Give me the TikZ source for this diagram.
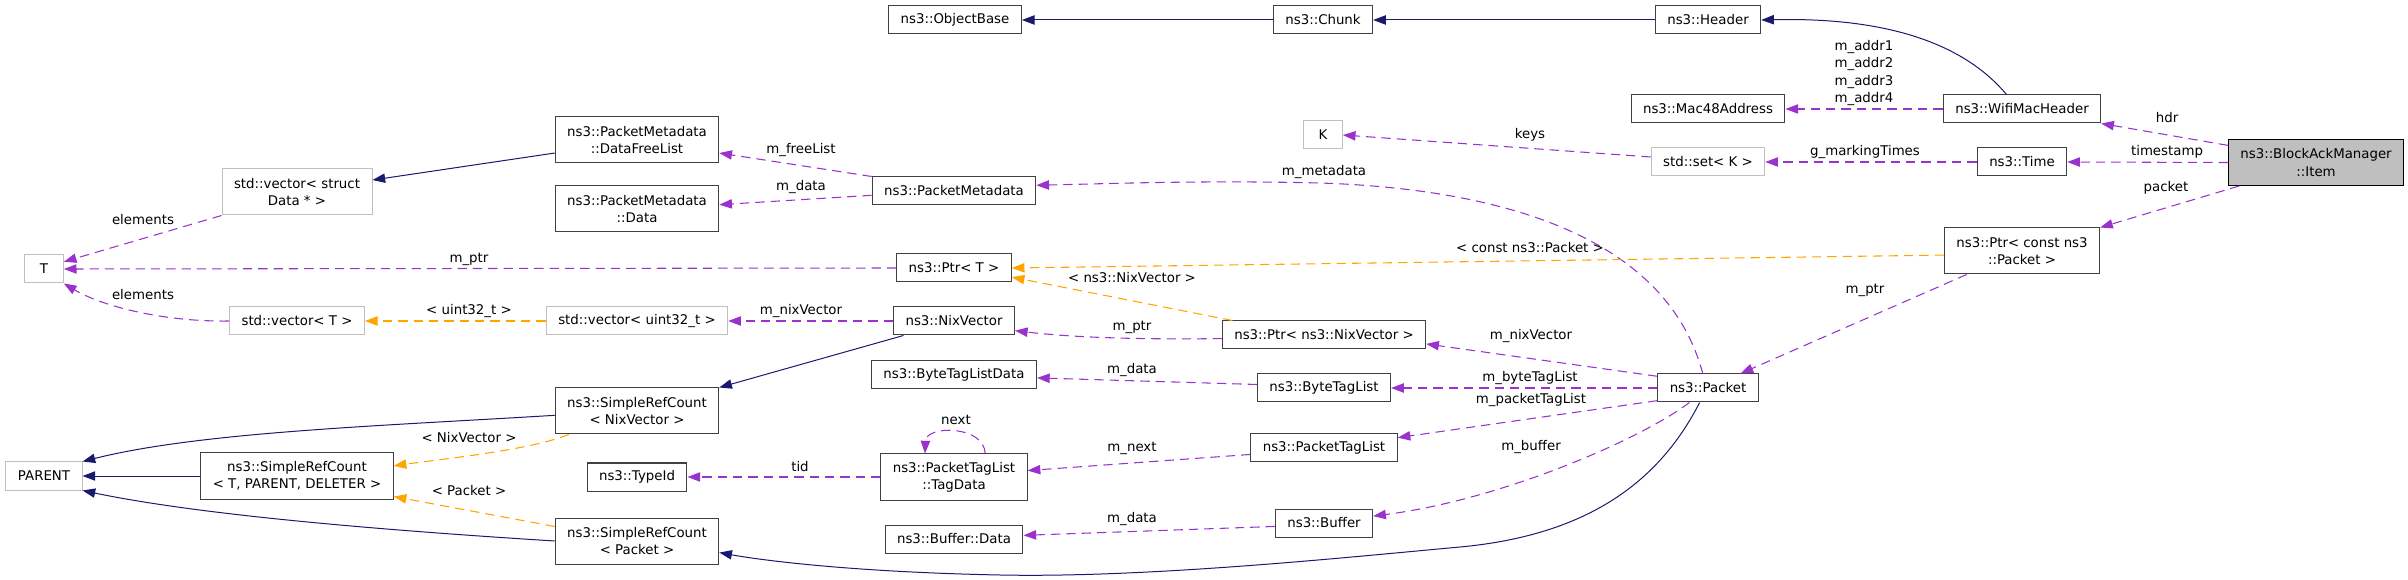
\documentclass[tikz,border=0pt]{standalone}
\usepackage{fontspec}
\setmainfont{DejaVu Sans}
\usepackage{tikz}
\usetikzlibrary{arrows.meta}

\definecolor{midnightblue}{HTML}{191970}
\definecolor{edgepurple}{HTML}{9A32CD}
\definecolor{edgeorange}{HTML}{FFA500}
\definecolor{grey25}{HTML}{404040}
\definecolor{grey75}{HTML}{BFBFBF}

\begin{document}
\begin{tikzpicture}[x=0.75pt, y=-0.75pt, >={Triangle[length=9.5pt,width=7pt]},
    font=\fontsize{10}{13}\selectfont,
    cls/.style={draw=grey25, fill=white, line width=0.75pt, align=center, inner xsep=9pt, inner ysep=0pt, minimum height=21pt},
    cls2/.style={cls, minimum height=34.5pt},
    undoc/.style={cls, draw=grey75},
    lbl/.style={inner sep=0pt, align=center},
    inh/.style={->, draw=midnightblue, line width=0.75pt},
    use/.style={->, draw=edgepurple, dash pattern=on 7pt off 4.5pt, line width=0.8pt},
    tmpl/.style={use, draw=edgeorange}]
    \useasboundingbox (0,0) rectangle (2408,580);

    % Documented classes (one line)
    \foreach \n/\x/\y/\txt in {objbase/955/20/ns3::ObjectBase, chunk/1323/20/ns3::Chunk,
        header/1708/20/ns3::Header, mac48/1708/109/ns3::Mac48Address,
        wifihdr/2022/109/ns3::WifiMacHeader, time/2022/162/ns3::Time,
        pmeta/954/191/ns3::PacketMetadata, ptrt/954/268/ns3::Ptr< T >,
        nixvec/954/321/ns3::NixVector, ptrnix/1324/335/ns3::Ptr< ns3::NixVector >,
        btldata/954/375/ns3::ByteTagListData, btl/1324/388/ns3::ByteTagList,
        typeid/637/477/ns3::TypeId, ptl/1324/448/ns3::PacketTagList,
        packet/1708/388/ns3::Packet, bufdata/954/539/ns3::Buffer::Data,
        buffer/1324/523/ns3::Buffer} {
        \node[cls] (\n) at (\x,\y) {\txt};
    }

    % Undocumented classes
    \foreach \n/\x/\y/\txt in {settk/1708/162/std::set< K >, vect/297/321/std::vector< T >,
        vecu/637/321/std::vector< uint32\_t >, parent/44/476/PARENT} {
        \node[undoc] (\n) at (\x,\y) {\txt};
    }
    \node[undoc, minimum width=29pt] (kk) at (1323,135) {K};
    \node[undoc, minimum width=29pt] (tt) at (44,269) {T};
    \node[undoc, minimum height=34.5pt] (vecdata) at (297,192) {std::vector< struct\\Data * >};

    % Two line boxes
    \node[cls2, draw=black, fill=grey75] (item) at (2316,162.5) {ns3::BlockAckManager\\::Item};
    \node[cls2] (ptrcp) at (2022,251) {ns3::Ptr< const ns3\\::Packet >};
    \node[cls2] (freelist) at (637,140) {ns3::PacketMetadata\\::DataFreeList};
    \node[cls2] (pmdata) at (637,209) {ns3::PacketMetadata\\::Data};
    \node[cls2] (srcnix) at (637,411) {ns3::SimpleRefCount\\< NixVector >};
    \node[cls2] (srctpd) at (297,476) {ns3::SimpleRefCount\\< T, PARENT, DELETER >};
    \node[cls2] (tagdata) at (954,477) {ns3::PacketTagList\\::TagData};
    \node[cls2] (srcpkt) at (637,541) {ns3::SimpleRefCount\\< Packet >};

    % Inheritance
    \draw[inh] (chunk.west) -- (objbase.east);
    \draw[inh] (header.west) -- (chunk.east);
    \draw[inh] (wifihdr.137) .. controls (1965,45) and (1890,17) .. (header.east);
    \draw[inh] (freelist.189) -- (vecdata.9);
    \draw[inh] (nixvec.196) -- (srcnix.north east);
    \draw[inh] (srcnix.183) .. controls (380,426) and (200,432) .. (parent.north east);
    \draw[inh] (srctpd.west) -- (parent.east);
    \draw[inh] (srcpkt.west) .. controls (380,530) and (200,515) .. (parent.south east);
    \draw[inh] (packet.240) .. controls (1660,480) and (1590,535) .. (1460,547)
        .. controls (1350,557) and (1150,578) .. (1000,575)
        .. controls (850,572) and (760,560) .. (srcpkt.352);

    % Members
    \draw[use] (item.169) -- (wifihdr.south east);
    \draw[use] (item.west) -- (time.east);
    \draw[use] (item.197) -- (ptrcp.north east);
    \draw[use] (wifihdr.west) -- (mac48.east);
    \draw[use] (time.west) -- (settk.east);
    \draw[use] (settk.175) -- (kk.east);
    \draw[use] (ptrcp.203) -- (packet.24);
    \draw[use] (packet.110) .. controls (1670,250) and (1530,190) .. (1320,183)
        .. controls (1200,180) and (1100,184) .. (pmeta.4);
    \draw[use] (pmeta.north west) -- (freelist.351);
    \draw[use] (pmeta.183) -- (pmdata.3);
    \draw[use] (ptrt.west) -- (tt.east);
    \draw[use] (vecdata.south west) -- (tt.20);
    \draw[use] (vect.west) .. controls (160,322) and (100,305) .. (tt.south east);
    \draw[use] (nixvec.west) -- (vecu.east);
    \draw[use] (ptrnix.182) .. controls (1120,340) and (1060,336) .. (nixvec.351);
    \draw[use] (packet.167) -- (ptrnix.355);
    \draw[use] (packet.west) -- (btl.east);
    \draw[use] (packet.194) -- (ptl.8);
    \draw[use] (packet.218) .. controls (1640,440) and (1500,500) .. (buffer.8);
    \draw[use] (btl.177) -- (btldata.358);
    \draw[use] (ptl.185) -- (tagdata.5);
    \draw[use] (tagdata.37) .. controls (984,425) and (926,425) .. (tagdata.141);
    \draw[use] (tagdata.west) -- (typeid.east);
    \draw[use] (buffer.184) -- (bufdata.3);

    % Template instances
    \draw[tmpl] (ptrcp.183) -- (ptrt.east);
    \draw[tmpl] (ptrnix.171) -- (ptrt.351);
    \draw[tmpl] (vecu.west) -- (vect.east);
    \draw[tmpl] (srcnix.199) .. controls (530,450) and (450,458) .. (srctpd.6);
    \draw[tmpl] (srcpkt.170) -- (srctpd.348);

    % Edge labels
    \foreach \n/\x/\y/\txt in {lhdr/2167/118/hdr, lts/2167/152/timestamp, lpkt/2166/188/packet,
        lgmt/1865/152/g\_markingTimes, lkeys/1530/135/keys, lmptra/1865/290/m\_ptr,
        lconst/1530/248/< const ns3::Packet >, lmeta/1324/172/m\_metadata,
        lfree/801/150/m\_freeList, lmdataa/801/187/m\_data, lmptrb/469/259/m\_ptr,
        lela/143/220/elements, lelb/143/295/elements, luint/469/311/< uint32\_t >,
        lnixa/801/311/m\_nixVector, lmptrc/1132/327/m\_ptr, lnixt/1132/278/< ns3::NixVector >,
        lnixb/1531/336/m\_nixVector, lbtl/1530/378/m\_byteTagList,
        lptl/1531/400/m\_packetTagList, lbuf/1531/447/m\_buffer,
        lmdatab/1132/370/m\_data, lnext/1132/448/m\_next, lloop/956/420/next,
        ltid/800/467/tid, lmdatac/1132/519/m\_data,
        lsrcnix/469/438/< NixVector >, lsrcpkt/469/491/< Packet >} {
        \node[lbl] (\n) at (\x,\y) {\txt};
    }
    \node[lbl] (laddr) at (1864,73) {m\_addr1\\m\_addr2\\m\_addr3\\m\_addr4};
\end{tikzpicture}
\end{document}
